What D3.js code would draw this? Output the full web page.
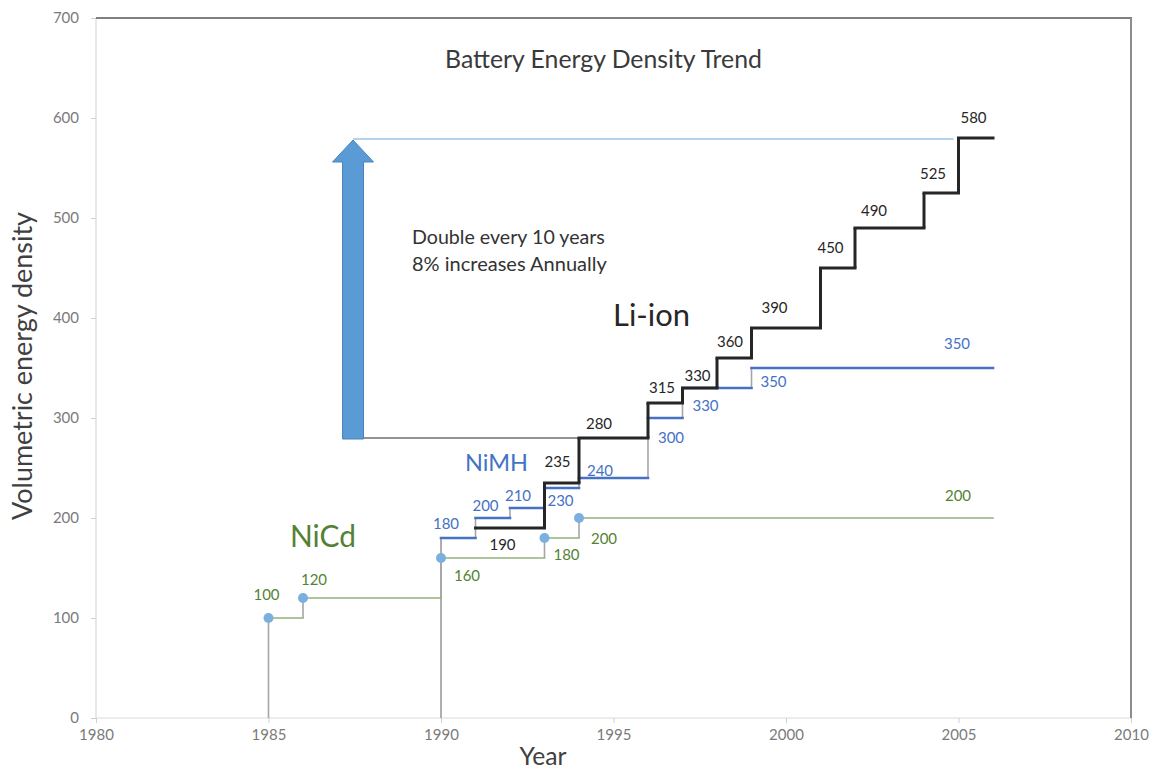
<!DOCTYPE html>
<html>
<head>
<meta charset="utf-8">
<script src="https://cdn.jsdelivr.net/npm/d3@7"></script>
<style>
  html, body { margin: 0; padding: 0; background: #fff; }
  svg { display: block; }
  text { font-family: Lato, "Open Sans", "Noto Sans", sans-serif; }
</style>
</head>
<body>
<svg id="chart" width="1156" height="769"></svg>
<script>
// ---------- DATA ----------
const xTicks = [1980, 1985, 1990, 1995, 2000, 2005, 2010];
const yTicks = [0, 100, 200, 300, 400, 500, 600, 700];

const liYears   = [1991, 1993, 1994, 1996, 1997, 1998, 1999, 2001, 2002, 2004, 2005, 2006];
const liValues  = [190, 235, 280, 315, 330, 360, 390, 450, 490, 525, 580, 580];

const nimhYears  = [1990, 1991, 1992, 1993, 1994, 1996, 1997, 1998, 1999, 2006];
const nimhValues = [180, 200, 210, 230, 240, 300, 330, 330, 350, 350];

const nicdYears  = [1985, 1986, 1990, 1993, 1994, 2006];
const nicdValues = [100, 120, 160, 180, 200, 200];

const arrowYear = 1987.45;
const arrowFrom = 280;
const arrowTo = 580;

const chartTitle = "Battery Energy Density Trend";
const xTitle = "Year";
const yTitle = "Volumetric energy density";
const noteLines = ["Double every 10 years", "8% increases Annually"];

// ---------- LAYOUT ----------
const svg = d3.select("#chart");
const L = 96, R = 1131, T = 18, B = 718;
const x = d3.scaleLinear().domain([1980, 2010]).range([L, R]);
const y = d3.scaleLinear().domain([0, 700]).range([B, T]);

const cBlack = "#262626", cBlue = "#4472c4", cGreenLine = "#93b27a", cGreenText = "#548235";
const cGray = "#a6a6a6";

function fitWidth(t, w) {
  const l = t.node().getComputedTextLength();
  const fs = parseFloat(t.attr("font-size"));
  if (l > 0) t.attr("font-size", fs * w / l);
  return t;
}

// frame
svg.append("line").attr("x1", L).attr("x2", L).attr("y1", T).attr("y2", B).attr("stroke", "#d9d9d9").attr("stroke-width", 1.2);
svg.append("line").attr("x1", L).attr("x2", R).attr("y1", B).attr("y2", B).attr("stroke", "#d9d9d9").attr("stroke-width", 1.2);
svg.append("line").attr("x1", L).attr("x2", R + 1).attr("y1", T).attr("y2", T).attr("stroke", "#7f7f7f").attr("stroke-width", 2);
svg.append("line").attr("x1", R).attr("x2", R).attr("y1", T).attr("y2", B).attr("stroke", "#8c8c8c").attr("stroke-width", 2);

// axes
const xAxis = d3.axisBottom(x).tickValues(xTicks).tickFormat(d3.format("d")).tickSize(5).tickPadding(6);
const gx = svg.append("g").attr("transform", `translate(0,${B})`).call(xAxis);
gx.select(".domain").remove();
gx.selectAll(".tick line").attr("stroke", "#d0d0d0");
gx.selectAll(".tick text").attr("fill", "#7a7a7a").attr("font-size", 15).attr("font-family", "Lato, sans-serif");

const yAxis = d3.axisLeft(y).tickValues(yTicks).tickSize(5).tickPadding(12);
const gy = svg.append("g").attr("transform", `translate(${L},0)`).call(yAxis);
gy.select(".domain").remove();
gy.selectAll(".tick line").attr("stroke", "#d0d0d0");
gy.selectAll(".tick text").attr("fill", "#7a7a7a").attr("font-size", 15).attr("font-family", "Lato, sans-serif");

// titles
fitWidth(svg.append("text").attr("x", 603.5).attr("y", 58).attr("text-anchor", "middle").attr("dominant-baseline", "central")
  .attr("font-size", 20).attr("fill", "#3a3a3a").text(chartTitle), 317);
fitWidth(svg.append("text").attr("x", 543).attr("y", 755).attr("text-anchor", "middle").attr("dominant-baseline", "central")
  .attr("font-size", 21).attr("fill", "#404040").text(xTitle), 47);
fitWidth(svg.append("text").attr("transform", "translate(21,366) rotate(-90)").attr("text-anchor", "middle").attr("dominant-baseline", "central")
  .attr("font-size", 21).attr("fill", "#404040").text(yTitle), 308);

// ---------- reference lines + arrow ----------
svg.append("line").attr("x1", x(arrowYear)).attr("x2", x(1994)).attr("y1", y(arrowFrom)).attr("y2", y(arrowFrom))
  .attr("stroke", "#6f6f6f").attr("stroke-width", 1.6);
svg.append("line").attr("x1", x(arrowYear)).attr("x2", x(2005) - 5).attr("y1", y(arrowTo) + 1).attr("y2", y(arrowTo) + 1)
  .attr("stroke", "#9dc3e6").attr("stroke-width", 1.6);

{
  const cx = x(arrowYear), sw = 10.5, hw = 20.5, hl = 22;
  const yt = y(arrowTo) + 2, yb = y(arrowFrom) + 1;
  const p = d3.path();
  p.moveTo(cx, yt); p.lineTo(cx + hw, yt + hl); p.lineTo(cx + sw, yt + hl); p.lineTo(cx + sw, yb);
  p.lineTo(cx - sw, yb); p.lineTo(cx - sw, yt + hl); p.lineTo(cx - hw, yt + hl); p.closePath();
  svg.append("path").attr("d", p.toString()).attr("fill", "#5b9bd5").attr("stroke", "#4a85bd").attr("stroke-width", 1);
}

// ---------- step lines ----------
function stepSegs(years, vals) {
  const h = [], v = [];
  for (let i = 0; i < years.length - 1; i++) {
    h.push({ x1: years[i], x2: years[i + 1], y: vals[i] });
    if (vals[i + 1] !== vals[i]) v.push({ x: years[i + 1], y1: vals[i], y2: vals[i + 1] });
  }
  return { h, v };
}
function drawSteps(years, vals, hColor, hWidth, vColor, vWidth, dropFromZero) {
  const g = svg.append("g");
  const s = stepSegs(years, vals);
  if (dropFromZero) s.v.unshift({ x: years[0], y1: 0, y2: vals[0] });
  g.selectAll("line.v").data(s.v).join("line").attr("class", "v")
    .attr("x1", d => x(d.x)).attr("x2", d => x(d.x)).attr("y1", d => y(d.y1)).attr("y2", d => y(d.y2))
    .attr("stroke", vColor).attr("stroke-width", vWidth);
  g.selectAll("line.h").data(s.h).join("line").attr("class", "h")
    .attr("x1", d => x(d.x1)).attr("x2", d => x(d.x2)).attr("y1", d => y(d.y)).attr("y2", d => y(d.y))
    .attr("stroke", hColor).attr("stroke-width", hWidth).attr("stroke-linecap", "square");
  return g;
}

// NiCd drop line extends to NiMH start at 1990
svg.append("line").attr("x1", x(nimhYears[0])).attr("x2", x(nimhYears[0])).attr("y1", y(0)).attr("y2", y(nimhValues[0]))
  .attr("stroke", cGray).attr("stroke-width", 1.8);

drawSteps(nicdYears, nicdValues, cGreenLine, 1.6, cGray, 1.6, true);
drawSteps(nimhYears, nimhValues, cBlue, 2.6, cGray, 1.6, false);
drawSteps(liYears, liValues, cBlack, 3, cBlack, 3, false);

// NiCd markers
svg.append("g").selectAll("circle").data(nicdYears.slice(0, -1).map((d, i) => [d, nicdValues[i]])).join("circle")
  .attr("cx", d => x(d[0])).attr("cy", d => y(d[1])).attr("r", 5).attr("fill", "#7bafdf");

// ---------- data labels ----------
const liOff   = [[27, 16], [13, -22], [20, -15], [14, -16], [15, -13], [13, -17], [23, -21], [10, -21], [19, -18], [9, -20], [15, -21]];
const nimhOff = [[5, -15], [10, -13], [8, -13], [16, 12], [21, -8], [23, 19], [23, 17], null, [22, 13], [-36, -25]];
const nicdOff = [[-2, -24], [11, -19], [26, 17], [22, 16], [25, 20], [-35, -23]];

function drawLabels(years, vals, offs, color) {
  const data = years.map((d, i) => ({ yr: d, v: vals[i], o: offs[i] })).filter(d => d.o);
  svg.append("g").selectAll("text").data(data).join("text")
    .attr("x", d => x(d.yr) + d.o[0]).attr("y", d => y(d.v) + d.o[1])
    .attr("text-anchor", "middle").attr("dominant-baseline", "central")
    .attr("font-size", 15).attr("fill", color).text(d => d.v);
}
drawLabels(liYears, liValues, liOff, "#262626");
drawLabels(nimhYears, nimhValues, nimhOff, "#4472c4");
drawLabels(nicdYears, nicdValues, nicdOff, cGreenText);

// ---------- series names ----------
fitWidth(svg.append("text").attr("x", 651.5).attr("y", 314).attr("text-anchor", "middle").attr("dominant-baseline", "central")
  .attr("font-size", 30).attr("fill", "#262626").text("Li-ion"), 77);
fitWidth(svg.append("text").attr("x", 496.5).attr("y", 462).attr("text-anchor", "middle").attr("dominant-baseline", "central")
  .attr("font-size", 21).attr("fill", "#4472c4").text("NiMH"), 63);
fitWidth(svg.append("text").attr("x", 323).attr("y", 535).attr("text-anchor", "middle").attr("dominant-baseline", "central")
  .attr("font-size", 28).attr("fill", cGreenText).text("NiCd"), 66);

// note
noteLines.forEach((t, i) => {
  fitWidth(svg.append("text").attr("x", 412).attr("y", 236 + i * 27).attr("dominant-baseline", "central")
    .attr("font-size", 16).attr("fill", "#333").text(t), i === 0 ? 193 : 195);
});
</script>
</body>
</html>
